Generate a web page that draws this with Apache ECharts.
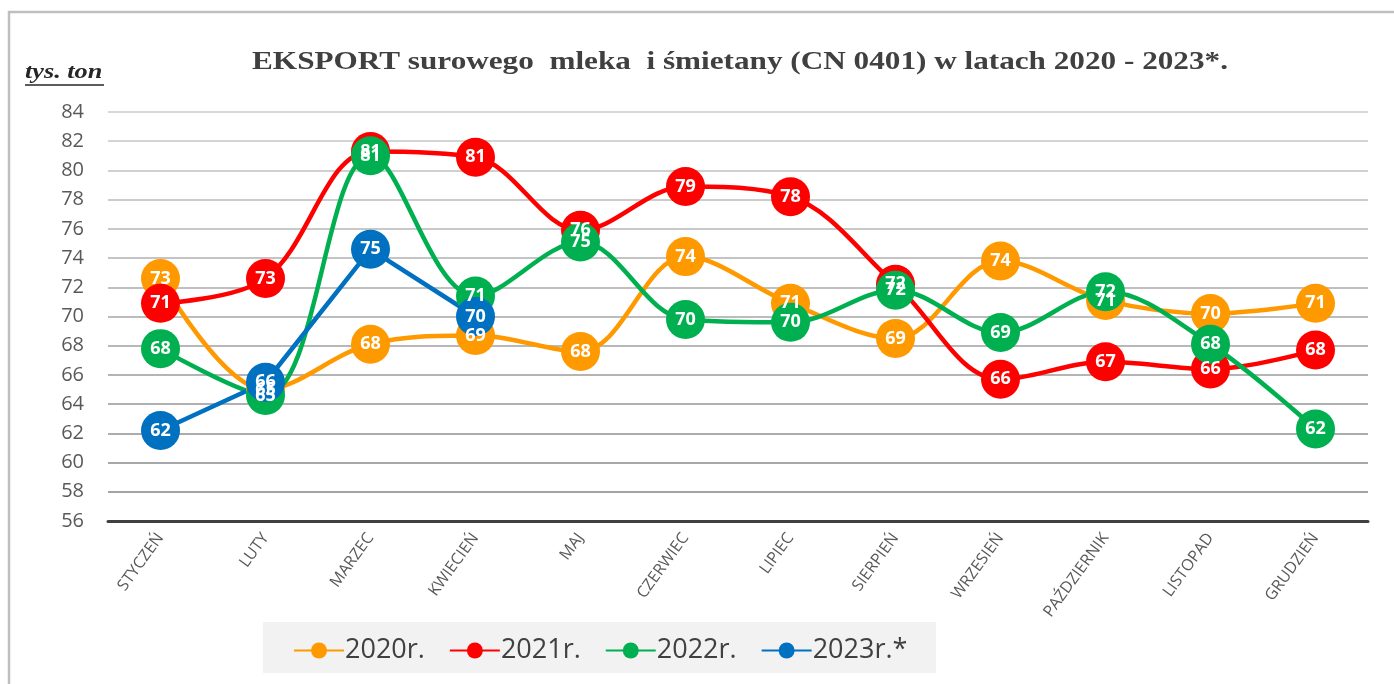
<!DOCTYPE html>
<html>
<head>
<meta charset="utf-8">
<script src="https://cdn.jsdelivr.net/npm/echarts@6/dist/echarts.min.js"></script>
<style>
  html, body { margin: 0; padding: 0; background: #fff; }
  #chart { width: 1394px; height: 684px; }
</style>
</head>
<body>
<div id="chart"></div>
<script>
// miesiące
const months = ['STYCZEŃ', 'LUTY', 'MARZEC', 'KWIECIEŃ', 'MAJ', 'CZERWIEC', 'LIPIEC',
  'SIERPIEŃ', 'WRZESIEŃ', 'PAŹDZIERNIK', 'LISTOPAD', 'GRUDZIEŃ']

// eksport, tys. ton
const y2020 = [72.6, 65.0, 68.1, 68.7, 67.6, 74.1, 70.9, 68.5, 73.8, 71.1, 70.2, 70.9]
const y2021 = [70.9, 72.6, 81.3, 80.9, 75.9, 78.9, 78.2, 72.2, 65.7, 66.9, 66.4, 67.7]
const y2022 = [67.8, 64.6, 81.0, 71.4, 75.1, 69.8, 69.6, 71.8, 68.9, 71.7, 68.1, 62.3]
const y2023 = [62.2, 65.5, 74.6, 70.0]

const yMin = 56
const yMax = 84
const yStep = 2

const chart = echarts.init(document.getElementById('chart'))

const mkSeries = (name, data, color, smooth) => ({
  name: name,
  type: 'line',
  smooth: smooth ? 0.35 : false,
  data: data,
  symbol: 'circle',
  symbolSize: 39,
  lineStyle: { width: 4.5, color: color },
  itemStyle: { color: color },
  label: {
    show: true,
    position: 'inside',
    color: '#fff',
    fontWeight: 'bold',
    fontSize: 18,
    fontFamily: 'Open Sans',
    formatter: p => Math.round(p.value)
  }
})

// linie siatki coraz ciemniejsze ku dołowi
const gridColors = ['#a0a0a0', '#a4a4a4', '#a8a8a8', '#acacac', '#b0b0b0', '#b4b4b4', '#b8b8b8',
  '#bcbcbc', '#c0c0c0', '#c4c4c4', '#c8c8c8', '#cccccc', '#d0d0d0', '#d4d4d4', '#d8d8d8']

chart.setOption({
  backgroundColor: '#fff',
  animation: false,
  graphic: [
    {
      type: 'rect',
      shape: { x: 9, y: 12, width: 1400, height: 700 },
      style: { fill: 'none', stroke: '#bfbfbf', lineWidth: 2.5 },
      silent: true
    },
    {
      type: 'text',
      x: 740,
      y: 62,
      scaleX: 1.2,
      style: {
        text: 'EKSPORT surowego  mleka  i śmietany (CN 0401) w latach 2020 - 2023*.',
        font: 'bold 26px "Liberation Serif"',
        fill: '#404040',
        textAlign: 'center',
        textVerticalAlign: 'middle'
      }
    },
    {
      type: 'text',
      x: 25,
      y: 73,
      scaleX: 1.25,
      style: {
        text: 'tys. ton',
        font: 'italic bold 21px "Liberation Serif"',
        fill: '#262626',
        textAlign: 'left',
        textVerticalAlign: 'middle'
      }
    },
    {
      type: 'line',
      shape: { x1: 25, y1: 85, x2: 104, y2: 85 },
      style: { stroke: '#262626', lineWidth: 1.5 }
    },
    {
      type: 'rect',
      shape: { x: 263, y: 622, width: 673, height: 51 },
      style: { fill: '#f2f2f2' },
      z: -1
    }
  ],
  grid: {
    left: 108,
    right: 26,
    top: 112,
    bottom: 163
  },
  legend: {
    left: 288,
    top: 632,
    itemWidth: 50,
    itemHeight: 20,
    itemGap: 24,
    textStyle: { fontSize: 27, color: '#404040', fontFamily: 'Open Sans', padding: [0, 0, 0, -4] },
    data: ['2020r.', '2021r.', '2022r.', '2023r.*']
  },
  xAxis: {
    type: 'category',
    data: months,
    boundaryGap: true,
    axisLine: { lineStyle: { color: '#404040', width: 3 } },
    axisTick: { show: false },
    axisLabel: {
      rotate: 54,
      interval: 0,
      margin: 14,
      fontSize: 16,
      color: '#595959',
      fontFamily: 'Open Sans'
    }
  },
  yAxis: {
    type: 'value',
    min: yMin,
    max: yMax,
    interval: yStep,
    axisLine: { show: false },
    axisTick: { show: false },
    axisLabel: { fontSize: 20, color: '#595959', margin: 24, fontFamily: 'Open Sans' },
    splitLine: { lineStyle: { color: gridColors, width: 2 } }
  },
  series: [
    mkSeries('2020r.', y2020, '#ff9900', true),
    mkSeries('2021r.', y2021, '#ff0000', true),
    mkSeries('2022r.', y2022, '#00b050', true),
    mkSeries('2023r.*', y2023, '#0070c0', false)
  ]
})
</script>
</body>
</html>
